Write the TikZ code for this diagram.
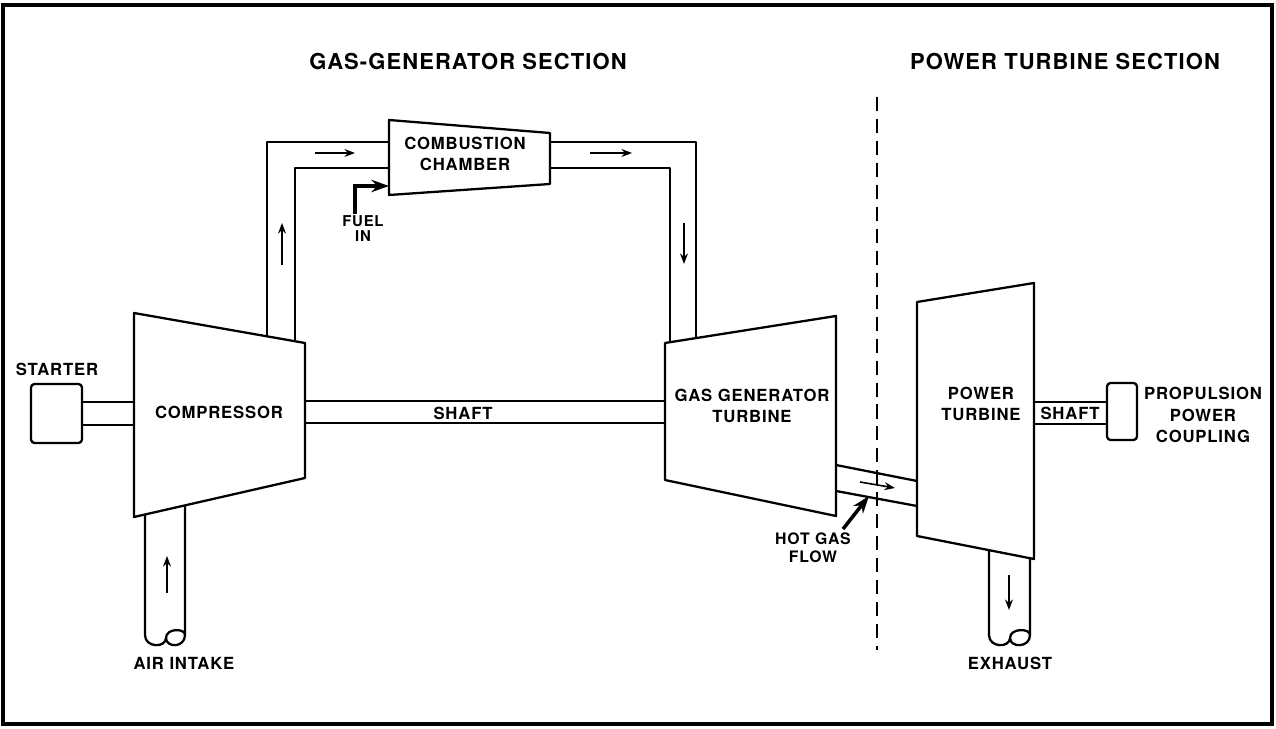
\documentclass[tikz,border=0pt]{standalone}
\usepackage{fontspec}
\setsansfont[LetterSpace=5]{TeX Gyre Heros}
\usetikzlibrary{arrows.meta}

\tikzset{
  part/.style={line width=1.3pt, line join=round},
  flow/.style={line width=0.9pt, -{Stealth[length=6pt,width=4.5pt]}},
  feed/.style={line width=2pt, -{Stealth[length=10pt,width=7pt]}},
  lbl/.style={font=\sffamily\bfseries\fontsize{9.5}{12}\selectfont, align=center, inner sep=1pt},
  small lbl/.style={font=\sffamily\bfseries\fontsize{8.5}{8.5}\selectfont, align=center, inner sep=1pt},
  title/.style={font=\sffamily\bfseries\fontsize{12.5}{15}\selectfont, inner sep=1pt}
}

\begin{document}
\begin{tikzpicture}[x=0.02cm,y=-0.02cm]
\useasboundingbox (0,0) rectangle (1276,729);
\draw[line width=2pt] (3,5) rectangle (1272,724);

% section titles and divider
\node[title] (gastitle) at (468,62) {GAS-GENERATOR SECTION};
\node[title] (pttitle) at (1065,62) {POWER TURBINE SECTION};
\draw[line width=1.2pt, dash pattern=on 8pt off 4.5pt] (877,97) -- (877,650);

% starter
\draw[part, rounded corners=2pt] (31,384) rectangle (82,443);
\node[lbl] (starter) at (57,369) {STARTER};
\draw[part] (82,402) -- (134,402) (82,425) -- (134,425);

% compressor
\draw[part] (134,313) -- (305,343) -- (305,478) -- (134,517) -- cycle;
\node[lbl] (comp) at (219,412) {COMPRESSOR};

% air intake
\draw[part] (145,514.5) -- (145,635) .. controls (145,648) and (166,648) .. (166,638)
  .. controls (166,628) and (185,628) .. (185,635) -- (185,505.4);
\draw[part] (166,638) .. controls (166,648) and (185,648) .. (185,635);
\draw[flow] (167,593) -- (167,556);
\node[lbl] (intake) at (184,663) {AIR INTAKE};

% shaft
\draw[part] (305,401) -- (665,401) (305,423) -- (665,423);
\node[lbl] (shaft) at (463,413) {SHAFT};

% ducts to and from the combustion chamber
\draw[part] (267,336.3) -- (267,142) -- (389,142);
\draw[part] (295,341.2) -- (295,168) -- (389,168);
\draw[part] (550,142) -- (696,142) -- (696,338.1);
\draw[part] (550,168) -- (670,168) -- (670,342.2);
\draw[flow] (282,265) -- (282,223);
\draw[flow] (315,153) -- (355,153);
\draw[flow] (590,153) -- (632,153);
\draw[flow] (684,223) -- (684,264);

% combustion chamber
\draw[part] (389,120) -- (550,133) -- (550,184) -- (389,195) -- cycle;
\node[lbl] (cc) at (465,154) {COMBUSTION\\CHAMBER};
\coordinate (ccin) at (389,186);
\node[small lbl] (fuel) at (363,229) {FUEL\\IN};
\draw[feed] (fuel.north -| 355,0) |- (ccin);

% gas generator turbine
\draw[part] (665,343) -- (836,316) -- (836,516) -- (665,480) -- cycle;
\node[lbl] (ggt) at (752,406) {GAS GENERATOR\\TURBINE};

% hot gas duct
\draw[part] (836,465) -- (917,481) (836,491) -- (917,506);
\draw[flow] (860,482) -- (895,488);
\node[lbl, font=\sffamily\bfseries\fontsize{9}{10}\selectfont] (hot) at (813,548) {HOT GAS\\FLOW};
\coordinate (hotin) at (869,496);
\draw[feed] (843,529) -- (hotin);

% power turbine
\draw[part] (917,302) -- (1034,283) -- (1034,559) -- (917,536) -- cycle;
\node[lbl] (pt) at (981,404) {POWER\\TURBINE};

% exhaust
\draw[part] (989,550) -- (989,635) .. controls (989,648) and (1010,648) .. (1010,638)
  .. controls (1010,628) and (1030,628) .. (1030,635) -- (1030,557.8);
\draw[part] (1010,638) .. controls (1010,648) and (1030,648) .. (1030,635);
\draw[flow] (1009,575) -- (1009,610);
\node[lbl] (exhaust) at (1010,663) {EXHAUST};

% output shaft and coupling
\draw[part] (1034,402) -- (1107,402) (1034,424) -- (1107,424);
\node[lbl] (oshaft) at (1070,413) {SHAFT};
\draw[part, rounded corners=2pt] (1107,383) rectangle (1137,440);
\node[lbl] (coupling) at (1203,415) {PROPULSION\\POWER\\COUPLING};
\end{tikzpicture}
\end{document}
